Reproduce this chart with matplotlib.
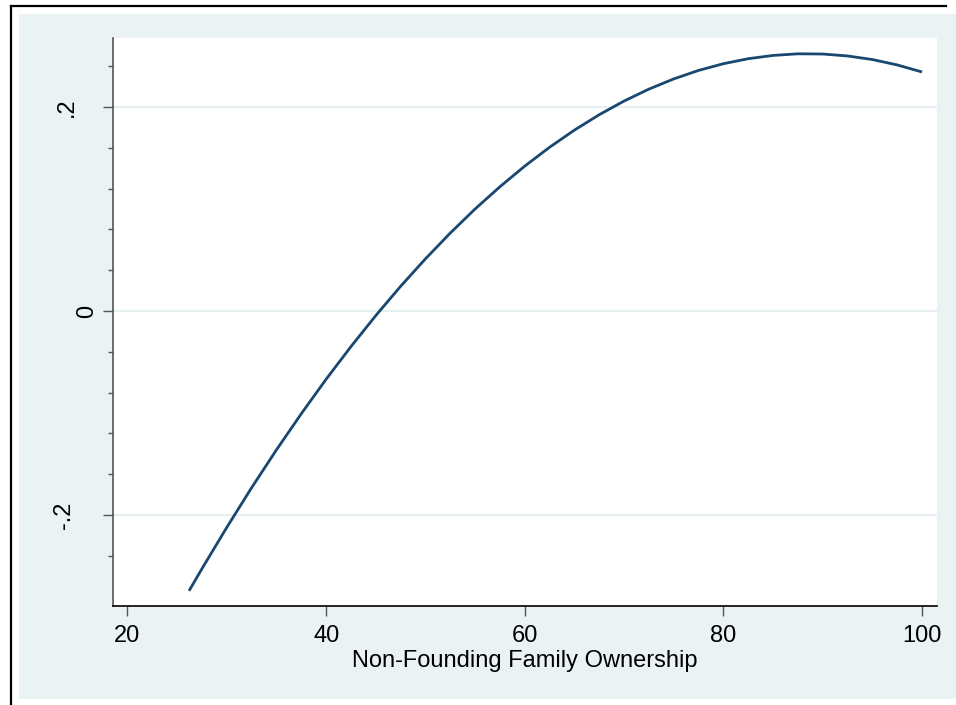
import matplotlib
matplotlib.use("Agg")
import matplotlib.pyplot as plt
from matplotlib.lines import Line2D
from matplotlib.patches import Rectangle
import matplotlib.transforms as mtransforms

plt.rcParams['font.family'] = ['Liberation Sans', 'DejaVu Sans']

# fitted effect of non-founding family ownership
ownership = [26.2, 27.5, 30, 32.5, 35, 37.5, 40, 42.5, 45, 47.5, 50, 52.5, 55,
             57.5, 60, 62.5, 65, 67.5, 70, 72.5, 75, 77.5, 80, 82.5, 85, 87.5,
             90, 92.5, 95, 97.5, 100]
effect = [-0.2743, -0.2526, -0.2121, -0.1732, -0.1361, -0.1007, -0.0669, -0.0349,
          -0.0045, 0.0242, 0.0511, 0.0764, 0.1000, 0.1218, 0.1420, 0.1605, 0.1773,
          0.1924, 0.2058, 0.2175, 0.2275, 0.2358, 0.2424, 0.2473, 0.2505, 0.2521,
          0.2519, 0.2500, 0.2465, 0.2412, 0.2343]

xticks = [20, 40, 60, 80, 100]
yticks = [-0.2, 0, 0.2]
ytick_labels = ['-.2', '0', '.2']
yminor = [-0.24, -0.16, -0.12, -0.08, -0.04, 0.04, 0.08, 0.12, 0.16, 0.24]
xlabel = 'Non-Founding Family Ownership'

W, H = 956, 705
fig = plt.figure(figsize=(W / 100, H / 100), dpi=100, facecolor='white')

# outer graph region and frame
fig.patches.append(Rectangle((19 / W, 1 - 699 / H), (W - 19) / W, (699 - 14) / H,
                             transform=fig.transFigure, facecolor='#eaf2f3',
                             edgecolor='none', zorder=-10))
fig.lines.append(Line2D([11 / W, 946 / W], [1 - 5.5 / H, 1 - 5.5 / H],
                        transform=fig.transFigure, color='black', lw=1.6))
fig.lines.append(Line2D([11 / W, 11 / W], [0, 1 - 5.5 / H],
                        transform=fig.transFigure, color='black', lw=1.6))

ax = fig.add_axes([113 / W, 1 - 606 / H, (937 - 113) / W, (606 - 38) / H])
ax.set_zorder(5)
ax.set_facecolor('white')
ax.plot(ownership, effect, color='#1a476f', lw=2.0, solid_capstyle='butt',
        solid_joinstyle='round', zorder=3)

ax.set_xlim(18.54, 101.51)
ax.set_ylim(-0.2892, 0.2676)

for y in yticks:
    ax.axhline(y, color='#e6eff1', lw=1.4, zorder=1)

ax.set_xticks(xticks)
ax.set_xticklabels([str(v) for v in xticks])
ax.set_yticks(yticks)
ax.set_yticks(yminor, minor=True)
ax.set_yticklabels([])
ax.tick_params(axis='x', length=7.2, width=1.0, color='#555555', pad=6.5,
               labelsize=17, labelcolor='black')
ax.tick_params(axis='y', which='major', length=7.2, width=1.0, color='#555555')
ax.tick_params(axis='y', which='minor', length=3.6, width=1.0, color='#555555')

# vertical y tick labels
ylab_x = {'.2': 73, '0': 93, '-.2': 70}
for v, lab in zip(yticks, ytick_labels):
    tr = mtransforms.blended_transform_factory(fig.transFigure, ax.transData)
    ax.text(ylab_x[lab] / W, v, lab, transform=tr, rotation=90,
            rotation_mode='anchor', ha='center', va='baseline', fontsize=17)

for s in ['top', 'right']:
    ax.spines[s].set_visible(False)
ax.spines['left'].set_color('#555555')
ax.spines['left'].set_linewidth(1.2)
ax.spines['bottom'].set_color('black')
ax.spines['bottom'].set_linewidth(1.2)

ax.set_xlabel(xlabel, fontsize=17, labelpad=2.5)

fig.savefig('out.png', dpi=100, facecolor='white')
